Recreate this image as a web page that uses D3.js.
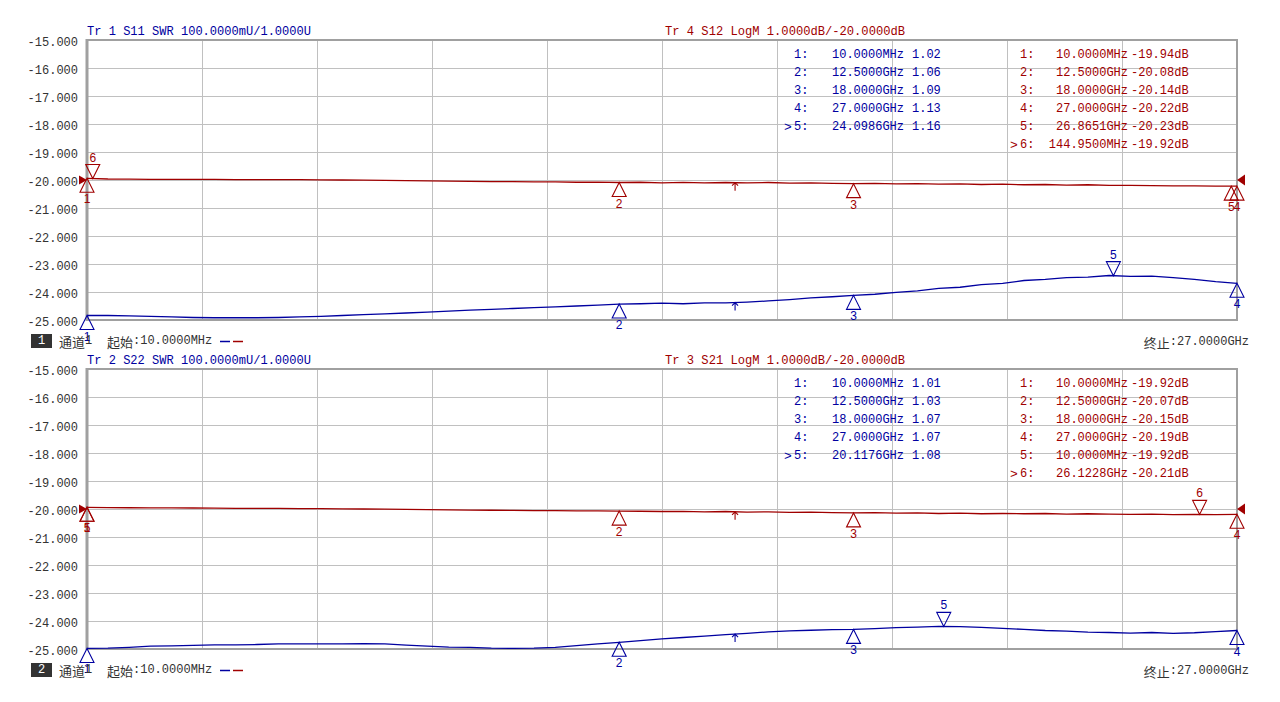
<!DOCTYPE html>
<html><head><meta charset="utf-8">
<script src="https://cdn.jsdelivr.net/npm/d3@7"></script>
<style>
html,body{margin:0;padding:0;background:#fff;}
svg{display:block;}
</style></head>
<body>
<div id="chart"></div>
<script>
// ---------------- DATA ----------------
const freqGHz = [0.01,0.5,1,1.5,2,2.5,3,3.5,4,4.5,5,5.5,6,6.5,7,7.5,8,8.5,9,9.5,10,10.5,11,11.5,12,12.5,13,13.5,14,14.5,15,15.5,16,16.5,17,17.5,18,18.5,19,19.5,20,20.5,21,21.5,22,22.5,23,23.5,24,24.5,25,25.5,26,26.5,27];

// Panel 1: Tr1 S11 SWR (blue) and Tr4 S12 LogM (red)
const s11Swr = [1.016,1.016,1.015,1.013,1.011,1.009,1.008,1.008,1.008,1.009,1.011,1.013,1.016,1.019,1.022,1.025,1.028,1.032,1.035,1.038,1.041,1.044,1.047,1.050,1.053,1.057,1.058,1.060,1.058,1.061,1.061,1.064,1.068,1.073,1.079,1.083,1.088,1.092,1.099,1.104,1.113,1.117,1.126,1.131,1.141,1.145,1.151,1.153,1.159,1.156,1.157,1.151,1.145,1.137,1.131];
const s12Db = [-19.94,-19.965,-19.97,-19.975,-19.975,-19.98,-19.98,-19.985,-19.985,-19.99,-19.99,-19.995,-20.00,-20.005,-20.01,-20.02,-20.03,-20.04,-20.05,-20.055,-20.06,-20.065,-20.07,-20.08,-20.075,-20.09,-20.08,-20.10,-20.085,-20.10,-20.09,-20.105,-20.09,-20.11,-20.10,-20.12,-20.13,-20.12,-20.14,-20.13,-20.15,-20.14,-20.16,-20.15,-20.17,-20.16,-20.18,-20.17,-20.19,-20.19,-20.20,-20.21,-20.21,-20.22,-20.22];

// Panel 2: Tr2 S22 SWR (blue) and Tr3 S21 LogM (red)
const s22Swr = [1.002,1.003,1.006,1.010,1.011,1.013,1.015,1.015,1.016,1.018,1.018,1.018,1.018,1.019,1.018,1.014,1.010,1.007,1.006,1.003,1.002,1.003,1.006,1.012,1.018,1.024,1.030,1.036,1.041,1.046,1.051,1.056,1.061,1.065,1.067,1.069,1.070,1.073,1.076,1.078,1.081,1.080,1.077,1.074,1.070,1.066,1.064,1.060,1.059,1.057,1.059,1.056,1.058,1.062,1.066];
const s21Db = [-19.94,-19.95,-19.955,-19.96,-19.96,-19.965,-19.97,-19.975,-19.975,-19.98,-19.985,-19.99,-19.995,-20.00,-20.005,-20.01,-20.02,-20.03,-20.04,-20.045,-20.05,-20.055,-20.06,-20.065,-20.07,-20.075,-20.08,-20.09,-20.085,-20.10,-20.09,-20.11,-20.10,-20.12,-20.11,-20.13,-20.14,-20.13,-20.15,-20.14,-20.16,-20.15,-20.17,-20.16,-20.17,-20.16,-20.18,-20.17,-20.18,-20.19,-20.18,-20.20,-20.19,-20.20,-20.19];

// Markers
const s11MarkerFreqs = [0.01, 12.5, 18, 27, 24.0986];
const s11MarkerVals  = [1.02, 1.06, 1.09, 1.13, 1.16];
const s11Active = 5;
const s12MarkerFreqs = [0.01, 12.5, 18, 27, 26.8651, 0.14495];
const s12MarkerVals  = [-19.94, -20.08, -20.14, -20.22, -20.23, -19.92];
const s12Active = 6;
const s22MarkerFreqs = [0.01, 12.5, 18, 27, 20.1176];
const s22MarkerVals  = [1.01, 1.03, 1.07, 1.07, 1.08];
const s22Active = 5;
const s21MarkerFreqs = [0.01, 12.5, 18, 27, 0.01, 26.1228];
const s21MarkerVals  = [-19.92, -20.07, -20.15, -20.19, -19.92, -20.21];
const s21Active = 6;
const refArrowFreq = 15.22;

// Axis
const dbTicks = [-15,-16,-17,-18,-19,-20,-21,-22,-23,-24,-25];
const freqStart = 0.01, freqStop = 27;
const swrDomain = [1.0, 2.0];
const dbDomain = [-25, -15];

// Texts
const headers = [
  {blue:"Tr 1  S11 SWR 100.0000mU/1.0000U", red:"Tr 4  S12 LogM 1.0000dB/-20.0000dB"},
  {blue:"Tr 2  S22 SWR 100.0000mU/1.0000U", red:"Tr 3  S21 LogM 1.0000dB/-20.0000dB"}
];
const channelLabels = ["1","2"];
const startLabel = "10.0000MHz";
const stopLabel = "27.0000GHz";

// ---------------- DRAW ----------------
const W = 1280, H = 702;
const BLUE = "#0000a0", RED = "#a00000", GRID = "#c0c0c0", FRAME = "#a0a0a0", TXT = "#333";
const MONO = "'Liberation Mono','DejaVu Sans Mono',monospace";
const CJK = "'Noto Sans CJK SC',sans-serif";
const SANS = "'Liberation Sans','DejaVu Sans',sans-serif";

const svg = d3.select("#chart").append("svg").attr("width", W).attr("height", H);

const L = 87, R = 1237;
const x = d3.scaleLinear().domain([freqStart, freqStop]).range([L, R]);
const bis = d3.bisector(d => d).left;
function interp(vals, f) {
  let i = bis(freqGHz, f);
  if (i <= 0) return vals[0];
  if (i >= freqGHz.length) return vals[vals.length-1];
  const f0 = freqGHz[i-1], f1 = freqGHz[i];
  const t = (f - f0) / (f1 - f0);
  return vals[i-1] + t * (vals[i] - vals[i-1]);
}
function fmtFreq(f) {
  return f < 1 ? (f*1000).toFixed(4) + "MHz" : f.toFixed(4) + "GHz";
}

function panel(top, bottom, swr, db, sm, smv, sAct, dm, dmv, dAct, hdr, chLabel) {
  const g = svg.append("g");
  const yDb = d3.scaleLinear().domain(dbDomain).range([bottom, top]);
  const ySwr = d3.scaleLinear().domain(swrDomain).range([bottom, top]);

  const ax = d3.axisLeft(yDb).tickValues(dbTicks).tickSize(-(R - L)).tickPadding(9)
    .tickFormat(d => d.toFixed(3));
  const axG = g.append("g").attr("transform", `translate(${L},0)`).call(ax);
  axG.select(".domain").remove();
  axG.selectAll(".tick line").attr("stroke", GRID).attr("stroke-width", 1).attr("shape-rendering","crispEdges");
  axG.selectAll(".tick text").attr("fill", TXT).style("font-family", MONO).style("font-size","12px")
    .attr("dy", "0.42em");

  const xTicks = d3.range(0, 11).map(i => freqStart + i * (freqStop - freqStart) / 10);
  const xax = d3.axisBottom(x).tickValues(xTicks).tickSize(-(bottom - top)).tickFormat("");
  const xG = g.append("g").attr("transform", `translate(0,${bottom})`).call(xax);
  xG.select(".domain").remove();
  xG.selectAll(".tick line").attr("stroke", GRID).attr("stroke-width", 1).attr("shape-rendering","crispEdges");

  g.append("rect").attr("x", L).attr("y", top).attr("width", R - L).attr("height", bottom - top)
    .attr("fill", "none").attr("stroke", FRAME).attr("stroke-width", 2);
  g.append("line").attr("x1", L).attr("x2", L).attr("y1", top - 1).attr("y2", bottom + 1)
    .attr("stroke", FRAME).attr("stroke-width", 3);

  g.append("text").attr("x", L).attr("y", top - 8).text(hdr.blue).attr("fill", BLUE)
    .style("font-family", MONO).style("font-size", "12px").attr("dominant-baseline","central")
    .attr("textLength", 224).attr("lengthAdjust","spacingAndGlyphs");
  g.append("text").attr("x", 665).attr("y", top - 8).text(hdr.red).attr("fill", RED)
    .style("font-family", MONO).style("font-size", "12px").attr("dominant-baseline","central")
    .attr("textLength", 240).attr("lengthAdjust","spacingAndGlyphs");

  const lineSwr = d3.line().x((d, i) => x(freqGHz[i])).y(d => ySwr(d));
  const lineDb = d3.line().x((d, i) => x(freqGHz[i])).y(d => yDb(d));
  g.append("path").datum(swr).attr("d", lineSwr).attr("fill", "none").attr("stroke", BLUE).attr("stroke-width", 1.3);
  g.append("path").datum(db).attr("d", lineDb).attr("fill", "none").attr("stroke", RED).attr("stroke-width", 1.3);

  const yr = yDb(-20);
  g.append("path").attr("d", `M${L-8},${yr-4.5}L${L},${yr}L${L-8},${yr+4.5}Z`).attr("fill", RED);
  g.append("path").attr("d", `M${R+8},${yr-5.5}L${R},${yr}L${R+8},${yr+5.5}Z`).attr("fill", RED);

  [[swr, ySwr, BLUE], [db, yDb, RED]].forEach(([vals, ys, c]) => {
    const ax0 = x(refArrowFreq), ay = ys(interp(vals, refArrowFreq));
    g.append("path").attr("d", `M${ax0},${ay}L${ax0},${ay+8}M${ax0-3},${ay+3}L${ax0},${ay}L${ax0+3},${ay+3}`)
      .attr("stroke", c).attr("fill", "none").attr("stroke-width", 1.1);
  });

  function drawMarkers(freqs, vals, act, ys, c) {
    freqs.forEach((f, i) => {
      const n = i + 1;
      const mx = x(f), my = ys(interp(vals, f));
      const up = n !== act;
      const d = up ? `M${mx},${my}L${mx-7},${my+14}L${mx+7},${my+14}Z`
                   : `M${mx},${my}L${mx-7},${my-14}L${mx+7},${my-14}Z`;
      g.append("path").attr("d", d).attr("fill", "none").attr("stroke", c).attr("stroke-width", 1.1);
      g.append("text").attr("x", mx).attr("y", up ? my + 21 : my - 21).text(n)
        .attr("fill", c).attr("text-anchor", "middle").attr("dominant-baseline", "central")
        .style("font-family", SANS).style("font-size", "12px");
    });
  }
  drawMarkers(sm, swr, sAct, ySwr, BLUE);
  drawMarkers(dm, db, dAct, yDb, RED);

  function table(freqs, vals, act, c, xIdx, xFreqEnd, xVal, fmtVal) {
    freqs.forEach((f, i) => {
      const n = i + 1, ty = top + 15 + i * 18;
      const t = (txt, xx, anchor) => g.append("text").attr("x", xx).attr("y", ty).text(txt)
        .attr("fill", c).attr("text-anchor", anchor).attr("dominant-baseline", "central")
        .style("font-family", MONO).style("font-size", "12px");
      if (n === act) t(">", xIdx - 10, "start").style("font-size", "13px");
      t(n + ":", xIdx, "start");
      t(fmtFreq(f), xFreqEnd, "end");
      t(fmtVal(vals[i]), xVal, "start");
    });
  }
  table(sm, smv, sAct, BLUE, 794, 904, 912, v => v.toFixed(2));
  table(dm, dmv, dAct, RED, 1020, 1128, 1131, v => v.toFixed(2) + "dB");

  const cy = bottom + 21;
  g.append("rect").attr("x", 31).attr("y", cy - 7).attr("width", 21).attr("height", 14).attr("fill", "#333");
  g.append("text").attr("x", 41.5).attr("y", cy).text(chLabel).attr("fill", "#fff").attr("text-anchor","middle")
    .attr("dominant-baseline","central").style("font-family", MONO).style("font-size","12px");
  const t1 = g.append("text").attr("x", 59).attr("y", cy).attr("fill", TXT).attr("dominant-baseline","central");
  t1.append("tspan").text("通道").style("font-family", CJK).style("font-size","13px");
  t1.append("tspan").text("1").style("font-family", MONO).style("font-size","12px");
  const t2 = g.append("text").attr("x", 107).attr("y", cy).attr("fill", TXT).attr("dominant-baseline","central");
  t2.append("tspan").text("起始").style("font-family", CJK).style("font-size","13px");
  t2.append("tspan").text(":" + startLabel).style("font-family", MONO).style("font-size","12px");
  g.append("line").attr("x1", 220).attr("x2", 230).attr("y1", cy + 0.5).attr("y2", cy + 0.5).attr("stroke", BLUE).attr("stroke-width", 1.5);
  g.append("line").attr("x1", 233).attr("x2", 243).attr("y1", cy + 0.5).attr("y2", cy + 0.5).attr("stroke", RED).attr("stroke-width", 1.5);
  const t3 = g.append("text").attr("x", 1249).attr("y", cy + 1).attr("fill", TXT).attr("dominant-baseline","central").attr("text-anchor","end");
  t3.append("tspan").text("终止").style("font-family", CJK).style("font-size","13px");
  t3.append("tspan").text(":" + stopLabel).style("font-family", MONO).style("font-size","12px");
}

panel(40, 320, s11Swr, s12Db, s11MarkerFreqs, s11MarkerVals, s11Active, s12MarkerFreqs, s12MarkerVals, s12Active, headers[0], channelLabels[0]);
panel(369, 649, s22Swr, s21Db, s22MarkerFreqs, s22MarkerVals, s22Active, s21MarkerFreqs, s21MarkerVals, s21Active, headers[1], channelLabels[1]);
</script>
</body></html>
